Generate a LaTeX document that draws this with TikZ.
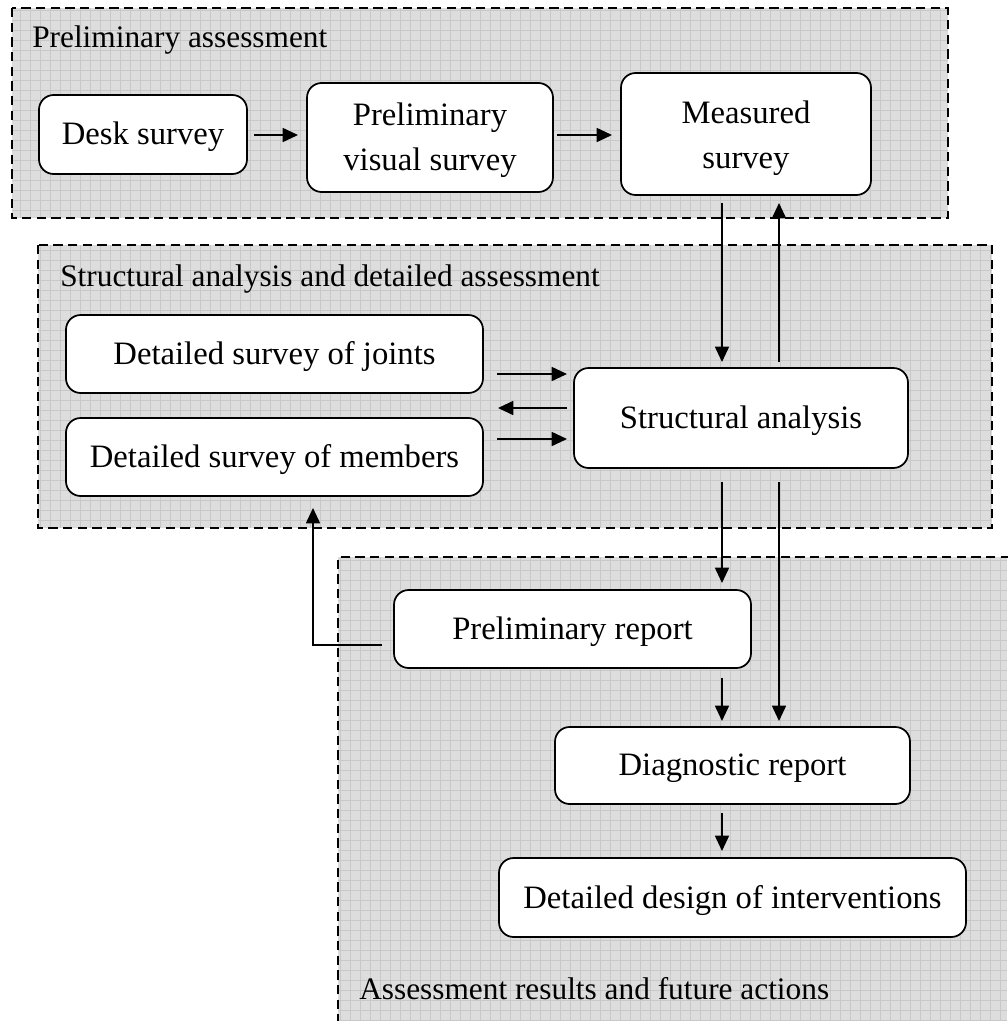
\documentclass[tikz,border=0pt]{standalone}
\usepackage{fontspec}
\setmainfont{Liberation Serif}
\usetikzlibrary{arrows.meta,fit}

\definecolor{panelfill}{RGB}{221,221,221}
\definecolor{panelgrid}{RGB}{200,200,200}

\tikzset{
  panel/.style={draw=black, dashed, dash pattern=on 7pt off 4pt, line width=1.3pt},
  stage/.style={draw=black, fill=white, rounded corners=11pt, line width=1.3pt,
                inner sep=0pt},
  stagetext/.style={align=center, inner sep=0pt, yshift=-2pt,
                    font=\fontsize{24.5}{34}\selectfont},
  flow/.style={line width=1.3pt, -{Triangle[width=10.5pt,length=11.5pt]}},
  heading/.style={anchor=base west, inner sep=0pt, font=\fontsize{23.5}{28}\selectfont}
}

\begin{document}
\begin{tikzpicture}[x=0.75pt, y=-0.75pt]
  \useasboundingbox (0,0) rectangle (1007,1021);

  % shaded panels with a fine grid texture
  \begin{scope}
    \clip (338,557) rectangle (1007,1021);
    \fill[panelfill] (338,557) rectangle (1007,1021);
    \draw[panelgrid, line width=0.5pt, step=7.5pt] (338,557) grid (1007,1021);
  \end{scope}
  \draw[panel] (1010,557) -- (338,557) -- (338,1025);

  \begin{scope}
    \clip (38,245) rectangle (992,528);
    \fill[panelfill] (38,245) rectangle (992,528);
    \draw[panelgrid, line width=0.5pt, step=7.5pt] (38,245) grid (992,528);
  \end{scope}
  \draw[panel] (38,245) rectangle (992,528);

  \begin{scope}
    \clip (12,8) rectangle (948,218);
    \fill[panelfill] (12,8) rectangle (948,218);
    \draw[panelgrid, line width=0.5pt, step=7.5pt] (12,8) grid (948,218);
  \end{scope}
  \draw[panel] (12,8) rectangle (948,218);

  % panel headings
  \node[heading] (h1) at (32,47) {Preliminary assessment};
  \node[heading] (h2) at (60,286) {Structural analysis and detailed assessment};
  \node[heading] (h3) at (359,999) {Assessment results and future actions};

  % stages
  \node[stage, fit={(39,95)(247,174)}] (desk) {};
  \node[stagetext] at (desk.center) (deskT) {Desk survey};
  \node[stage, fit={(307,83)(553,192)}] (visual) {};
  \node[stagetext] at (visual.center) (visualT) {Preliminary\\visual survey};
  \node[stage, fit={(621,73)(871,195)}] (measured) {};
  \node[stagetext] at ([yshift=-1pt]measured.center) (measuredT) {Measured\\survey};

  \node[stage, fit={(66,315)(483,393)}] (joints) {};
  \node[stagetext] at (joints.center) (jointsT) {Detailed survey of joints};
  \node[stage, fit={(66,418)(483,496)}] (members) {};
  \node[stagetext] at (members.center) (membersT) {Detailed survey of members};
  \node[stage, fit={(574,368)(908,468)}] (analysis) {};
  \node[stagetext] at (analysis.center) (analysisT) {Structural analysis};

  \node[stage, fit={(394,590)(751,668)}] (prelrep) {};
  \node[stagetext] at (prelrep.center) (prelrepT) {Preliminary report};
  \node[stage, fit={(555,727)(910,804)}] (diag) {};
  \node[stagetext] at (diag.center) (diagT) {Diagnostic report};
  \node[stage, fit={(499,858)(966,937)}] (design) {};
  \node[stagetext] at (design.center) (designT) {Detailed design of interventions};

  % connector end points
  \coordinate (a1s) at (254,135);  \coordinate (a1e) at (298,135);
  \coordinate (a2s) at (557,135);  \coordinate (a2e) at (612,135);
  \coordinate (m1s) at (722,203);  \coordinate (m1e) at (722,362);
  \coordinate (m2s) at (779,362);  \coordinate (m2e) at (779,203);
  \coordinate (j1s) at (497,374);  \coordinate (j1e) at (567,374);
  \coordinate (j2s) at (567,408);  \coordinate (j2e) at (498,408);
  \coordinate (j3s) at (497,439);  \coordinate (j3e) at (567,439);
  \coordinate (s1s) at (722,482);  \coordinate (s1e) at (722,583);
  \coordinate (s2s) at (779,482);  \coordinate (s2e) at (779,721);
  \coordinate (p1s) at (722,678);  \coordinate (p1e) at (722,721);
  \coordinate (d1s) at (722,813);  \coordinate (d1e) at (722,851);
  \coordinate (fbs) at (382,645);  \coordinate (fbc) at (313,645);
  \coordinate (fbe) at (313,508);

  % connectors
  \draw[flow] (a1s) -- (a1e);
  \draw[flow] (a2s) -- (a2e);
  \draw[flow] (m1s) -- (m1e);
  \draw[flow] (m2s) -- (m2e);
  \draw[flow] (j1s) -- (j1e);
  \draw[flow] (j2s) -- (j2e);
  \draw[flow] (j3s) -- (j3e);
  \draw[flow] (s1s) -- (s1e);
  \draw[flow] (s2s) -- (s2e);
  \draw[flow] (p1s) -- (p1e);
  \draw[flow] (d1s) -- (d1e);
  \draw[flow] (fbs) -- (fbc) -- (fbe);
\end{tikzpicture}
\end{document}
